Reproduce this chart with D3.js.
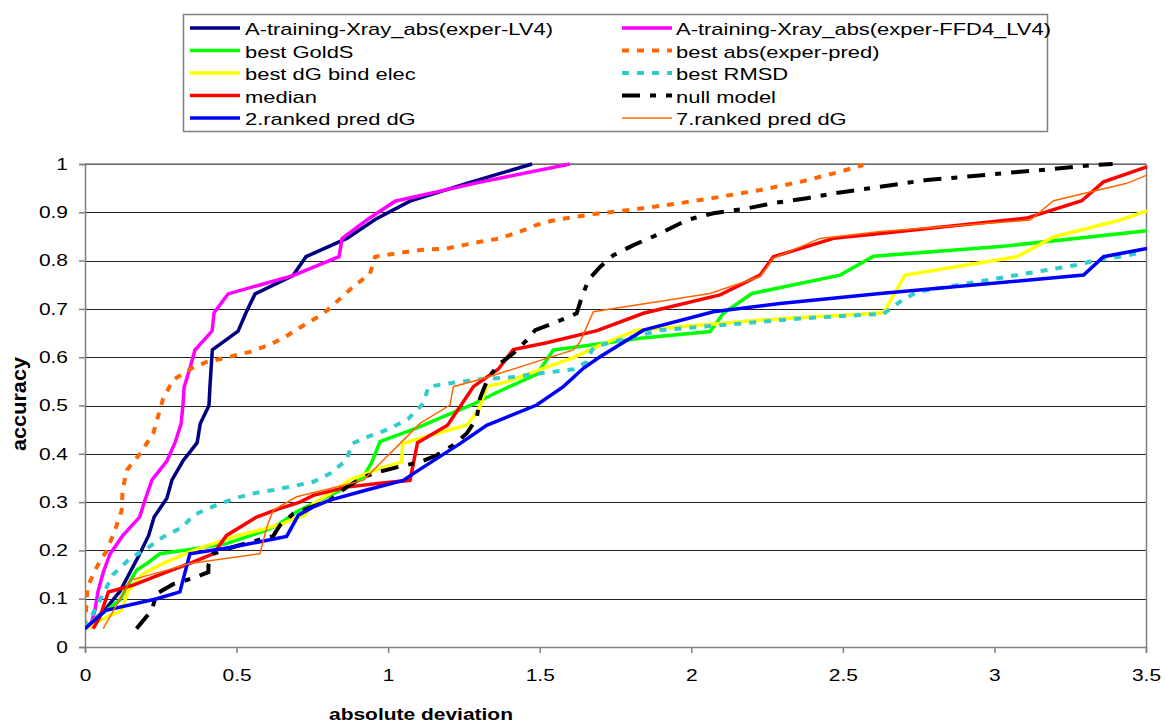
<!DOCTYPE html>
<html><head><meta charset="utf-8">
<script src="https://cdn.jsdelivr.net/npm/d3@7"></script>
<style>body{margin:0;background:#fff}svg{display:block}text{font-family:"Liberation Sans",Arial,sans-serif}</style>
</head><body><svg id="c" width="1165" height="724"></svg>
<script>
// ---- data (absolute deviation, accuracy) ----
const seriesNames = ["A-training-Xray_abs(exper-LV4)","A-training-Xray_abs(exper-FFD4_LV4)","best GoldS","best abs(exper-pred)","best dG bind elec","best RMSD","median","null model","2.ranked pred dG","7.ranked pred dG"];
const xTicks = [0,0.5,1,1.5,2,2.5,3,3.5];
const xTickLabels = ["0","0.5","1","1.5","2","2.5","3","3.5"];
const yTicks = [0,0.1,0.2,0.3,0.4,0.5,0.6,0.7,0.8,0.9,1];
const yTickLabels = ["0","0.1","0.2","0.3","0.4","0.5","0.6","0.7","0.8","0.9","1"];

const trainLV4 = [[0,0.038],[0.066,0.077],[0.115,0.115],[0.148,0.154],[0.18,0.192],[0.21,0.231],[0.228,0.269],[0.27,0.308],[0.287,0.346],[0.323,0.385],[0.37,0.423],[0.38,0.462],[0.409,0.5],[0.412,0.538],[0.416,0.577],[0.42,0.615],[0.505,0.654],[0.531,0.692],[0.561,0.731],[0.686,0.769],[0.729,0.808],[0.864,0.846],[0.957,0.885],[1.072,0.923],[1.27,0.962],[1.475,1]];
const trainFFD4 = [[0.016,0.038],[0.033,0.077],[0.043,0.115],[0.06,0.154],[0.082,0.192],[0.125,0.231],[0.18,0.269],[0.2,0.308],[0.221,0.346],[0.27,0.385],[0.297,0.423],[0.317,0.462],[0.323,0.5],[0.327,0.538],[0.346,0.577],[0.363,0.615],[0.419,0.654],[0.426,0.692],[0.472,0.731],[0.686,0.769],[0.838,0.808],[0.848,0.846],[0.932,0.885],[1.023,0.923],[1.3,0.962],[1.6,1]];
const bestGoldS = [[0.01,0.038],[0.027,0.055],[0.115,0.097],[0.138,0.124],[0.17,0.159],[0.204,0.173],[0.247,0.193],[0.346,0.202],[0.467,0.214],[0.6,0.242],[0.643,0.256],[0.698,0.28],[0.753,0.297],[0.863,0.331],[0.918,0.352],[0.946,0.382],[0.973,0.425],[1.089,0.452],[1.198,0.481],[1.281,0.503],[1.358,0.527],[1.491,0.565],[1.545,0.615],[1.633,0.622],[1.831,0.639],[2.062,0.653],[2.106,0.691],[2.2,0.732],[2.491,0.77],[2.601,0.809],[3.019,0.829],[3.503,0.862]];
const bestAbs = [[0,0.041],[0.008,0.124],[0.039,0.166],[0.072,0.2],[0.099,0.242],[0.121,0.283],[0.124,0.325],[0.138,0.366],[0.181,0.4],[0.225,0.442],[0.258,0.515],[0.291,0.553],[0.352,0.577],[0.401,0.59],[0.478,0.601],[0.544,0.611],[0.61,0.626],[0.66,0.642],[0.731,0.67],[0.786,0.69],[0.836,0.718],[0.885,0.746],[0.94,0.773],[0.957,0.808],[1.028,0.815],[1.105,0.822],[1.193,0.825],[1.303,0.839],[1.369,0.846],[1.435,0.86],[1.49,0.874],[1.556,0.885],[1.699,0.898],[1.798,0.905],[1.963,0.919],[2.095,0.932],[2.227,0.946],[2.359,0.963],[2.491,0.984],[2.567,0.998]];
const bestDGElec = [[0.01,0.038],[0.049,0.055],[0.121,0.076],[0.143,0.117],[0.192,0.152],[0.258,0.173],[0.346,0.197],[0.423,0.214],[0.511,0.232],[0.577,0.242],[0.654,0.256],[0.686,0.265],[0.726,0.273],[0.753,0.297],[0.808,0.318],[0.874,0.346],[0.973,0.37],[1.045,0.383],[1.048,0.421],[1.105,0.432],[1.171,0.444],[1.259,0.459],[1.298,0.49],[1.325,0.539],[1.391,0.549],[1.512,0.577],[1.611,0.599],[1.696,0.624],[1.82,0.656],[1.963,0.663],[2.095,0.67],[2.227,0.677],[2.359,0.682],[2.557,0.689],[2.634,0.692],[2.705,0.77],[3.074,0.808],[3.195,0.849],[3.415,0.884],[3.503,0.903]];
const bestRMSD = [[0,0.038],[0.093,0.15],[0.148,0.183],[0.204,0.204],[0.258,0.228],[0.324,0.249],[0.357,0.273],[0.423,0.291],[0.489,0.307],[0.555,0.318],[0.621,0.325],[0.687,0.333],[0.753,0.342],[0.808,0.359],[0.863,0.387],[0.88,0.421],[0.94,0.437],[1.006,0.452],[1.067,0.473],[1.116,0.504],[1.133,0.539],[1.204,0.546],[1.281,0.553],[1.413,0.559],[1.545,0.57],[1.611,0.575],[1.655,0.59],[1.672,0.615],[1.699,0.625],[1.765,0.635],[1.897,0.656],[2.095,0.666],[2.227,0.673],[2.359,0.68],[2.491,0.685],[2.634,0.69],[2.689,0.715],[2.744,0.735],[2.876,0.749],[3.008,0.763],[3.14,0.777],[3.272,0.791],[3.349,0.803],[3.426,0.809],[3.492,0.818]];
const median = [[0.027,0.038],[0.049,0.062],[0.077,0.114],[0.159,0.128],[0.264,0.154],[0.346,0.173],[0.396,0.186],[0.423,0.193],[0.467,0.231],[0.566,0.269],[0.643,0.287],[0.709,0.3],[0.753,0.314],[0.863,0.331],[0.973,0.339],[1.072,0.345],[1.097,0.423],[1.196,0.459],[1.281,0.539],[1.363,0.575],[1.413,0.616],[1.523,0.63],[1.689,0.655],[1.842,0.691],[2.095,0.729],[2.227,0.77],[2.271,0.808],[2.469,0.846],[2.623,0.856],[3.107,0.888],[3.288,0.924],[3.36,0.963],[3.503,0.994]];
const nullModel = [[0.17,0.038],[0.22,0.076],[0.237,0.111],[0.291,0.13],[0.363,0.144],[0.407,0.155],[0.407,0.169],[0.423,0.193],[0.489,0.207],[0.621,0.23],[0.643,0.252],[0.687,0.276],[0.808,0.304],[0.863,0.331],[0.918,0.352],[0.973,0.363],[1.034,0.373],[1.105,0.383],[1.16,0.397],[1.215,0.418],[1.259,0.442],[1.292,0.473],[1.303,0.515],[1.331,0.559],[1.369,0.587],[1.413,0.608],[1.457,0.635],[1.485,0.656],[1.556,0.673],[1.622,0.691],[1.639,0.725],[1.661,0.76],[1.699,0.787],[1.743,0.811],[1.809,0.832],[1.897,0.856],[1.985,0.884],[2.073,0.898],[2.183,0.908],[2.271,0.919],[2.381,0.929],[2.469,0.939],[2.623,0.953],[2.777,0.967],[2.931,0.975],[3.085,0.984],[3.217,0.991],[3.326,0.998],[3.39,1]];
const ranked2 = [[0,0.038],[0.069,0.076],[0.237,0.1],[0.313,0.114],[0.346,0.193],[0.478,0.206],[0.577,0.218],[0.665,0.229],[0.704,0.273],[0.753,0.29],[0.808,0.304],[0.929,0.325],[1.05,0.345],[1.083,0.359],[1.16,0.39],[1.237,0.421],[1.325,0.459],[1.49,0.501],[1.578,0.539],[1.644,0.577],[1.699,0.601],[1.842,0.656],[2.073,0.694],[2.293,0.711],[2.623,0.732],[3.294,0.77],[3.36,0.808],[3.503,0.825]];
const ranked7 = [[0.06,0.038],[0.132,0.117],[0.148,0.138],[0.247,0.155],[0.346,0.173],[0.577,0.193],[0.6,0.249],[0.621,0.283],[0.698,0.311],[0.918,0.345],[0.973,0.38],[1.034,0.418],[1.105,0.463],[1.204,0.501],[1.215,0.539],[1.325,0.558],[1.611,0.615],[1.633,0.632],[1.677,0.694],[2.062,0.732],[2.227,0.767],[2.271,0.805],[2.425,0.846],[2.623,0.86],[3.118,0.884],[3.195,0.924],[3.437,0.96],[3.503,0.977]];

const seriesData = [trainLV4,trainFFD4,bestGoldS,bestAbs,bestDGElec,bestRMSD,median,nullModel,ranked2,ranked7];
const styles = [
 {c:"#000080",w:3.5,d:null},{c:"#FF00FF",w:3.5,d:null},{c:"#00FF00",w:3.5,d:null},
 {c:"#FF6600",w:4,d:"7,8"},{c:"#FFFF00",w:3.5,d:null},{c:"#33CCCC",w:4,d:"7,8"},
 {c:"#FF0000",w:3.5,d:null},{c:"#000000",w:4,d:"18,10,6,10"},{c:"#0000FF",w:3.5,d:null},
 {c:"#FF6600",w:1.5,d:null}];

const svg = d3.select("#c");
const L=85,R=1146,T=164,B=647;
const x = d3.scaleLinear().domain([0,3.5]).range([L,R]);
const y = d3.scaleLinear().domain([0,1]).range([B,T]);

function stretch(sel,f){ sel.each(function(){ const w=this.getComputedTextLength(); d3.select(this).attr("textLength",w*f).attr("lengthAdjust","spacingAndGlyphs"); }); }

// gridlines
svg.append("g").selectAll("line").data(yTicks.slice(1)).join("line")
  .attr("x1",L).attr("x2",R).attr("y1",d=>Math.round(y(d))+0.5).attr("y2",d=>Math.round(y(d))+0.5)
  .attr("stroke","#222").attr("stroke-width",1.2);
svg.append("line").attr("x1",R+0.5).attr("x2",R+0.5).attr("y1",T).attr("y2",B).attr("stroke","#808080").attr("stroke-width",1.5);
svg.append("line").attr("x1",L).attr("x2",R).attr("y1",T).attr("y2",T).attr("stroke","#808080").attr("stroke-width",1.5);

// axes
const xAxis = d3.axisBottom(x).tickValues(xTicks).tickFormat((d,i)=>xTickLabels[i]).tickSize(6).tickPadding(12);
const gx = svg.append("g").attr("transform",`translate(0,${B})`).call(xAxis);
const yAxis = d3.axisLeft(y).tickValues(yTicks).tickFormat((d,i)=>yTickLabels[i]).tickSize(6).tickPadding(11);
const gy = svg.append("g").attr("transform",`translate(${L},0)`).call(yAxis);
[gx,gy].forEach(g=>{
  g.select(".domain").attr("stroke","#808080").attr("stroke-width",1.5);
  g.selectAll(".tick line").attr("stroke","#808080").attr("stroke-width",1.5);
  g.selectAll(".tick text").attr("font-size",16.5).attr("fill","#000").style("font-family","'Liberation Sans',Arial,sans-serif");
  stretch(g.selectAll(".tick text"),1.27);
});
gx.selectAll(".tick text").attr("dy","0.95em");

svg.append("clipPath").attr("id","pc").append("rect").attr("x",L).attr("y",T-3).attr("width",R-L+2).attr("height",B-T+6);

const line = d3.line().x(d=>x(d[0])).y(d=>y(d[1]));
const gl = svg.append("g").attr("clip-path","url(#pc)");
seriesData.forEach((s,i)=>{
  const st=styles[i];
  gl.append("path").attr("d",line(s)).attr("fill","none").attr("stroke",st.c)
    .attr("stroke-width",st.w).attr("stroke-dasharray",st.d).attr("stroke-linejoin","miter");
});

// axis titles
const xt = svg.append("text").attr("x",421).attr("y",720).attr("text-anchor","middle")
  .attr("font-size",16.5).attr("font-weight","bold").text("absolute deviation");
stretch(xt,1.27);
svg.append("text").attr("transform","translate(26,404) rotate(-90)").attr("text-anchor","middle")
  .attr("font-size",20).attr("font-weight","bold").attr("textLength",94).attr("lengthAdjust","spacingAndGlyphs").text("accuracy");

// legend
svg.append("rect").attr("x",183.5).attr("y",14.5).attr("width",864).attr("height",117)
  .attr("fill","#fff").attr("stroke","#808080").attr("stroke-width",1.5);
const rowsY=[28,50.5,73,95.5,118];
seriesNames.forEach((n,i)=>{
  const col=i%2,row=Math.floor(i/2);
  const lx= col===0?190:622, tx= col===0?245:676, yy=rowsY[row];
  const st=styles[i];
  svg.append("line").attr("x1",lx).attr("x2",lx+50).attr("y1",yy).attr("y2",yy)
    .attr("stroke",st.c).attr("stroke-width",st.w).attr("stroke-dasharray",st.d);
  const t=svg.append("text").attr("x",tx).attr("y",yy+7).attr("font-size",17).text(n);
  stretch(t,1.29);
});
</script></body></html>
